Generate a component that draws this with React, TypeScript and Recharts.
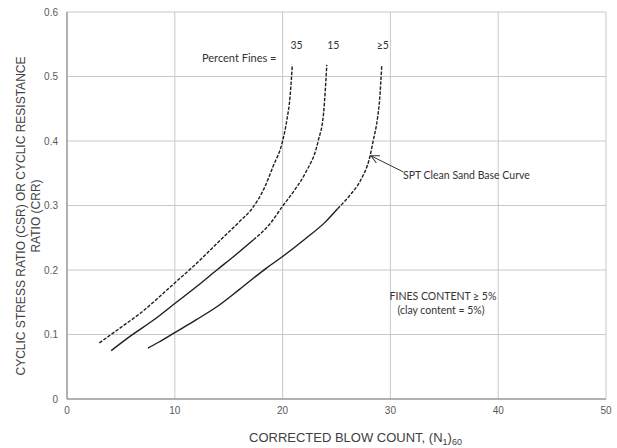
import React from 'react';
import {
  LineChart,
  Line,
  XAxis,
  YAxis,
  CartesianGrid,
  ReferenceLine,
  ReferenceDot,
} from 'recharts';

// fines = 35 (dashed over its whole length)
const fines35 = [
  { x: 3.0, y: 0.087 },
  { x: 5.0, y: 0.111 },
  { x: 6.8, y: 0.133 },
  { x: 10.0, y: 0.18 },
  { x: 12.0, y: 0.21 },
  { x: 14.2, y: 0.246 },
  { x: 16.0, y: 0.275 },
  { x: 17.2, y: 0.296 },
  { x: 18.3, y: 0.327 },
  { x: 19.1, y: 0.36 },
  { x: 20.0, y: 0.4 },
  { x: 20.4, y: 0.433 },
  { x: 20.7, y: 0.47 },
  { x: 20.9, y: 0.518 },
];

// fines = 15
const fines15Solid = [
  { x: 4.1, y: 0.075 },
  { x: 6.0, y: 0.099 },
  { x: 8.0, y: 0.122 },
  { x: 10.0, y: 0.148 },
  { x: 12.0, y: 0.174 },
  { x: 13.9, y: 0.2 },
  { x: 15.6, y: 0.223 },
  { x: 17.3, y: 0.247 },
];
const fines15Dashed = [
  { x: 17.3, y: 0.247 },
  { x: 18.8, y: 0.271 },
  { x: 20.0, y: 0.299 },
  { x: 21.2, y: 0.326 },
  { x: 22.1, y: 0.35 },
  { x: 23.3, y: 0.4 },
  { x: 23.8, y: 0.443 },
  { x: 24.1, y: 0.518 },
];

// fines <= 5 (clean sand base curve)
const fines5Solid = [
  { x: 7.5, y: 0.079 },
  { x: 8.5, y: 0.088 },
  { x: 10.0, y: 0.103 },
  { x: 12.0, y: 0.123 },
  { x: 13.9, y: 0.143 },
  { x: 16.0, y: 0.17 },
  { x: 18.5, y: 0.203 },
  { x: 20.0, y: 0.221 },
  { x: 22.0, y: 0.247 },
  { x: 24.0, y: 0.275 },
  { x: 25.1, y: 0.295 },
];
const fines5Dashed = [
  { x: 25.1, y: 0.295 },
  { x: 26.3, y: 0.317 },
  { x: 27.2, y: 0.338 },
  { x: 28.1, y: 0.376 },
  { x: 28.4, y: 0.4 },
  { x: 28.8, y: 0.435 },
  { x: 29.0, y: 0.464 },
  { x: 29.2, y: 0.518 },
];

const xTicks = [0, 10, 20, 30, 40, 50];
const yTicks = [0, 0.1, 0.2, 0.3, 0.4, 0.5, 0.6];

const curveLabels = [
  { x: 21.3, text: '35' },
  { x: 24.7, text: '15' },
  { x: 29.3, text: '\u22655' },
];

const arrowFrom = { x: 31.2, y: 0.352 };
const arrowTo = { x: 28.2, y: 0.377 };

const lineColor = '#1e1e1e';
const dash = '3.5 1.5';
const tickStyle = { fontSize: 10, fill: '#595959', fontFamily: 'Liberation Sans, Arial' };
const noteFont = 'Lato, sans-serif';

export default function App() {
  return (
    <div style={{ position: 'absolute', left: 0, top: 0, width: 617, height: 448 }}>
      <svg width={0} height={0} style={{ position: 'absolute' }}>
        <defs>
          <marker id="openArrow" markerWidth={10} markerHeight={10} refX={9} refY={5} orient="auto" markerUnits="userSpaceOnUse">
            <path d="M1,1 L9,5 L1,9" fill="none" stroke="#333" strokeWidth={1} />
          </marker>
        </defs>
      </svg>
      <LineChart width={617} height={448} margin={{ top: 12, right: 11, bottom: 0, left: 0 }}>
        <CartesianGrid stroke="#c9c9c9" strokeWidth={1} />
        <XAxis
          type="number"
          dataKey="x"
          domain={[0, 50]}
          ticks={xTicks}
          height={49}
          tickLine={false}
          axisLine={{ stroke: '#7f7f7f' }}
          tick={tickStyle}
          allowDataOverflow
        />
        <YAxis
          type="number"
          dataKey="y"
          domain={[0, 0.6]}
          ticks={yTicks}
          width={67}
          tickLine={false}
          tickMargin={3}
          axisLine={{ stroke: '#7f7f7f' }}
          tick={tickStyle}
          tickFormatter={(v: number) => (v === 0 ? '0' : String(Math.round(v * 10) / 10))}
          allowDataOverflow
        />
        <Line data={fines35} dataKey="y" type="monotone" stroke={lineColor} strokeWidth={1.4} strokeDasharray={dash} dot={false} isAnimationActive={false} />
        <Line data={fines15Solid} dataKey="y" type="monotone" stroke={lineColor} strokeWidth={1.4} dot={false} isAnimationActive={false} />
        <Line data={fines15Dashed} dataKey="y" type="monotone" stroke={lineColor} strokeWidth={1.4} strokeDasharray={dash} dot={false} isAnimationActive={false} />
        <Line data={fines5Solid} dataKey="y" type="monotone" stroke={lineColor} strokeWidth={1.4} dot={false} isAnimationActive={false} />
        <Line data={fines5Dashed} dataKey="y" type="monotone" stroke={lineColor} strokeWidth={1.4} strokeDasharray={dash} dot={false} isAnimationActive={false} />
        <ReferenceLine
          segment={[arrowFrom, arrowTo]}
          stroke="#333"
          strokeWidth={1}
          markerEnd="url(#openArrow)"
          ifOverflow="visible"
        />
        {curveLabels.map((c) => (
          <ReferenceDot
            key={c.text}
            x={c.x}
            y={0.535}
            r={0}
            ifOverflow="visible"
            label={{ value: c.text, position: 'top', fontSize: 10.5, fill: '#333', fontFamily: noteFont }}
          />
        ))}
      </LineChart>
      <svg width={617} height={448} style={{ position: 'absolute', left: 0, top: 0, pointerEvents: 'none' }}>
        <text x={202} y={62} fontSize={11} fill="#333" fontFamily={noteFont}>Percent Fines =</text>
        <text x={403} y={179} fontSize={10.5} fill="#333" fontFamily={noteFont}>SPT Clean Sand Base Curve</text>
        <text x={443} y={300} fontSize={10.5} fill="#333" fontFamily={noteFont} textAnchor="middle">FINES CONTENT ≥ 5%</text>
        <text x={441} y={314} fontSize={10.5} fill="#333" fontFamily={noteFont} textAnchor="middle">(clay content = 5%)</text>
        <text x={249} y={442} fontSize={13} fill="#404040" fontFamily="Liberation Sans, Arial">
          CORRECTED BLOW COUNT, (N<tspan fontSize={9} dy={3}>1</tspan><tspan dy={-3}>)</tspan><tspan fontSize={9} dy={3}>60</tspan>
        </text>
        <g fontSize={12} fill="#404040" fontFamily="Liberation Sans, Arial" textAnchor="middle">
          <text transform="translate(25,216) rotate(-90)">CYCLIC STRESS RATIO (CSR) OR CYCLIC RESISTANCE</text>
          <text transform="translate(40,216) rotate(-90)">RATIO (CRR)</text>
        </g>
      </svg>
    </div>
  );
}
